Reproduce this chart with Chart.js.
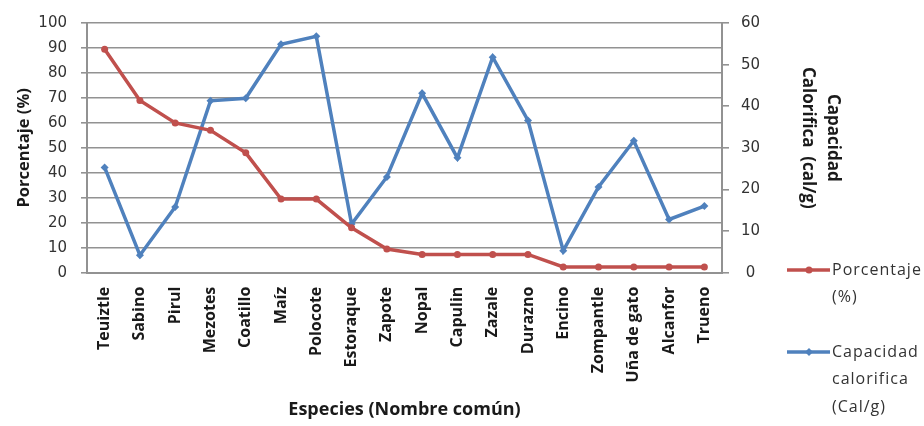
<!DOCTYPE html>
<html>
<head>
<meta charset="utf-8">
<script src="https://cdn.jsdelivr.net/npm/chart.js@4/dist/chart.umd.min.js"></script>
<style>
  html, body { margin: 0; padding: 0; background: #ffffff; }
  #wrap { position: relative; width: 924px; height: 426px; }
</style>
</head>
<body>
<div id="wrap"><canvas id="chart" width="924" height="426"></canvas></div>
<script>
// Species (common names)
const especies = ['Teuiztle', 'Sabino', 'Pirul', 'Mezotes', 'Coatillo', 'Maíz', 'Polocote',
  'Estoraque', 'Zapote', 'Nopal', 'Capulin', 'Zazale', 'Durazno', 'Encino', 'Zompantle',
  'Uña de gato', 'Alcanfor', 'Trueno'];

// Percentage of use (left axis)
const porcentaje = [89.5, 69, 60, 57, 48, 29.5, 29.5, 18, 9.5, 7.3, 7.3, 7.3, 7.3, 2.3, 2.3, 2.3, 2.3, 2.3];

// Heat capacity, cal/g (right axis)
const capacidad = [25.3, 4.2, 15.8, 41.3, 41.9, 54.9, 56.8, 11.7, 23, 43.1, 27.6, 51.8, 36.6, 5.3, 20.6, 31.7, 12.8, 16];

// Axis ranges
const pctAxis = { min: 0, max: 100, step: 10 };
const calAxis = { min: 0, max: 60, step: 10 };

// Titles and legend text
const tituloX = 'Especies (Nombre común)';
const tituloIzq = 'Porcentaje (%)';
const tituloDer = ['Capacidad', 'Calorifica  (cal/g)'];
const leyenda = [
  ['Porcentaje', '(%)'],
  ['Capacidad', 'calorifica', '(Cal/g)']
];

const ROJO = '#C0504D';
const AZUL = '#4F81BD';
const GRIS = '#929292';

const whiteBg = {
  id: 'whiteBg',
  beforeDraw(chart) {
    const ctx = chart.ctx;
    ctx.save();
    ctx.fillStyle = '#ffffff';
    ctx.fillRect(0, 0, chart.width, chart.height);
    ctx.restore();
  }
};

// Right axis title (two rotated lines) and the side legend
const extras = {
  id: 'extras',
  afterDraw(chart) {
    const ctx = chart.ctx;
    const area = chart.chartArea;
    ctx.save();
    // right axis title
    ctx.font = 'bold 17px "Open Sans"';
    ctx.fillStyle = '#1a1a1a';
    ctx.textAlign = 'center';
    ctx.textBaseline = 'middle';
    const cy = (area.top + area.bottom) / 2 - 10;
    ctx.translate(833, cy);
    ctx.rotate(Math.PI / 2);
    tituloDer.forEach((t, i) => ctx.fillText(t, 0, i * 25));
    ctx.restore();

    // legend
    ctx.save();
    const starts = [270, 352];
    chart.data.datasets.forEach((ds, i) => {
      const y = starts[i];
      ctx.strokeStyle = ds.borderColor;
      ctx.lineWidth = 3.5;
      ctx.beginPath();
      ctx.moveTo(787, y);
      ctx.lineTo(830, y);
      ctx.stroke();
      ctx.fillStyle = ds.borderColor;
      const r = ds.pointRadius;
      ctx.beginPath();
      if (ds.pointStyle === 'rectRot') {
        ctx.moveTo(809, y - r); ctx.lineTo(809 + r, y); ctx.lineTo(809, y + r); ctx.lineTo(809 - r, y);
        ctx.closePath();
      } else {
        ctx.arc(809, y, r, 0, Math.PI * 2);
      }
      ctx.fill();
      ctx.font = '16px "Open Sans"';
      ctx.letterSpacing = '1px';
      ctx.fillStyle = '#333333';
      ctx.textAlign = 'left';
      ctx.textBaseline = 'middle';
      leyenda[i].forEach((t, j) => ctx.fillText(t, 832, y + j * 27.5));
    });
    ctx.restore();
  }
};

new Chart(document.getElementById('chart'), {
  type: 'line',
  data: {
    labels: especies,
    datasets: [
      {
        label: 'Porcentaje (%)',
        data: porcentaje,
        yAxisID: 'yPct',
        borderColor: ROJO,
        backgroundColor: ROJO,
        borderWidth: 3.5,
        pointRadius: 3.5,
        pointStyle: 'circle',
        pointBorderWidth: 0,
        tension: 0
      },
      {
        label: 'Capacidad calorifica (Cal/g)',
        data: capacidad,
        yAxisID: 'yCal',
        borderColor: AZUL,
        backgroundColor: AZUL,
        borderWidth: 3.5,
        pointRadius: 4,
        pointStyle: 'rectRot',
        pointBorderWidth: 0,
        tension: 0
      }
    ]
  },
  options: {
    responsive: false,
    animation: false,
    devicePixelRatio: 1,
    layout: { padding: { left: 0, right: 0, top: 17, bottom: 0 } },
    plugins: {
      legend: { display: false },
      tooltip: { enabled: false },
      title: { display: false }
    },
    scales: {
      x: {
        type: 'category',
        offset: true,
        grid: { display: false, drawTicks: false },
        border: { display: true, color: GRIS, width: 2 },
        ticks: {
          minRotation: 90,
          maxRotation: 90,
          autoSkip: false,
          padding: 14,
          color: '#1a1a1a',
          font: { family: 'Open Sans', size: 16, weight: 'bold' }
        },
        title: {
          display: true,
          text: tituloX,
          color: '#1a1a1a',
          font: { family: 'Open Sans', size: 18, weight: 'bold', lineHeight: 1.2 },
          padding: { top: 0, bottom: 5 }
        },
        afterFit(scale) { scale.height = 153.3; }
      },
      yPct: {
        type: 'linear',
        position: 'left',
        min: pctAxis.min,
        max: pctAxis.max,
        ticks: {
          stepSize: pctAxis.step,
          padding: 14,
          color: '#333333',
          font: { family: 'DejaVu Sans', size: 15 }
        },
        grid: { color: GRIS, lineWidth: 1.6, tickLength: 6, drawTicks: true },
        border: { display: true, color: GRIS, width: 2 },
        title: {
          display: true,
          text: tituloIzq,
          color: '#1a1a1a',
          font: { family: 'Open Sans', size: 16.5, weight: 'bold', lineHeight: 1.2 },
          padding: { top: 14, bottom: 0 }
        },
        afterFit(scale) { scale.width = 87; }
      },
      yCal: {
        type: 'linear',
        position: 'right',
        min: calAxis.min,
        max: calAxis.max,
        ticks: {
          stepSize: calAxis.step,
          padding: 12,
          crossAlign: 'center',
          color: '#333333',
          font: { family: 'DejaVu Sans', size: 15 }
        },
        grid: { drawOnChartArea: false, color: GRIS, lineWidth: 1.6, tickLength: 7, drawTicks: true },
        border: { display: true, color: GRIS, width: 2 },
        afterFit(scale) { scale.width = 202; }
      }
    }
  },
  plugins: [whiteBg, extras]
});
</script>
</body>
</html>
